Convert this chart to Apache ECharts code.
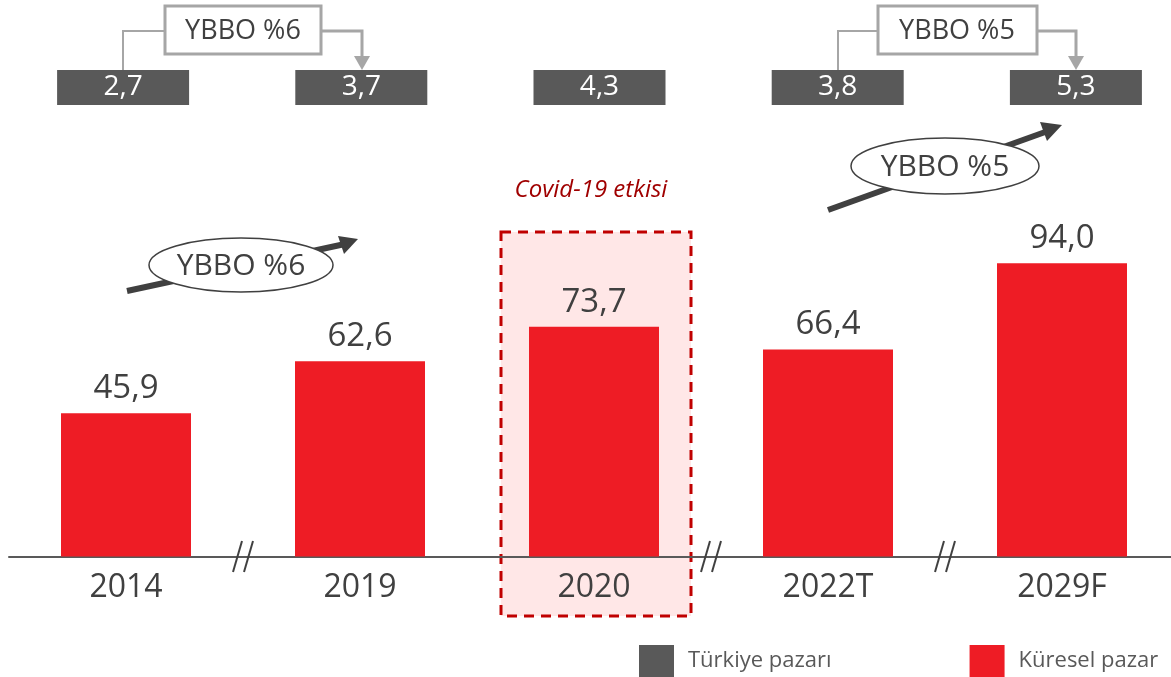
<!DOCTYPE html>
<html>
<head>
<meta charset="utf-8">
<script src="https://cdn.jsdelivr.net/npm/echarts@6/dist/echarts.min.js"></script>
<style>
  html, body { margin: 0; padding: 0; background: #fff; }
  #chart { width: 1171px; height: 677px; }
</style>
</head>
<body>
<div id="chart"></div>
<script>
  // data
  const years = ['2014', '2019', '2020', '2022T', '2029F'];
  const globalMarket = [45.9, 62.6, 73.7, 66.4, 94.0];
  const turkeyMarket = [2.7, 3.7, 4.3, 3.8, 5.3];
  const breakAfter = [0, 2, 3]; // axis breaks between these categories and the next one

  const fmt = (v) => v.toFixed(1).replace('.', ',');
  const font = '"Open Sans", "Noto Sans", sans-serif';
  const dark = '#404040';

  const chart = echarts.init(document.getElementById('chart'));

  // break marks on the x axis, centred between categories
  const breakMarks = [];
  breakAfter.forEach((i) => {
    const cx = 126 + 234 * i + 117;
    [[-10, -1], [1, 10]].forEach((d) => {
      breakMarks.push({
        type: 'line',
        z: 10,
        shape: { x1: cx + d[0], y1: 572, x2: cx + d[1], y2: 541 },
        style: { stroke: dark, lineWidth: 2 },
      });
    });
  });

  const option = {
    animation: false,
    textStyle: { fontFamily: font },
    legend: {
      left: 639,
      top: 645,
      padding: 0,
      itemWidth: 35,
      itemHeight: 32,
      itemGap: 138,
      icon: 'rect',
      textStyle: { fontSize: 22, color: '#595959', padding: [0, 0, 0, 9], fontFamily: font },
      data: ['Türkiye pazarı', 'Küresel pazar'],
    },
    grid: [
      { left: 9, width: 1170, top: 244.6, bottom: 120.5, outerBoundsMode: 'none' },
      { left: 4, width: 1191, top: 70, height: 35, outerBoundsMode: 'none' },
    ],
    xAxis: [
      {
        type: 'category',
        gridIndex: 0,
        data: years,
        axisTick: { show: false },
        axisLine: { lineStyle: { color: '#595959', width: 2 } },
        axisLabel: { fontSize: 32, color: dark, margin: 15, fontFamily: font },
      },
      { type: 'category', gridIndex: 1, data: years, show: false },
    ],
    yAxis: [
      { type: 'value', gridIndex: 0, min: 0, max: 100, show: false },
      { type: 'category', gridIndex: 1, data: ['tr'], show: false },
    ],
    series: [
      {
        name: 'Türkiye pazarı',
        type: 'scatter',
        xAxisIndex: 1,
        yAxisIndex: 1,
        symbol: 'rect',
        symbolSize: [132, 35],
        itemStyle: { color: '#595959', opacity: 1 },
        label: {
          show: true,
          position: 'inside',
          color: '#fff',
          fontSize: 28,
          fontFamily: font,
          formatter: (p) => fmt(turkeyMarket[p.dataIndex]),
        },
        data: turkeyMarket.map((v, i) => [i, 0]),
      },
      {
        name: 'Küresel pazar',
        type: 'bar',
        barWidth: 130,
        itemStyle: { color: '#ee1c25' },
        label: {
          show: true,
          position: 'top',
          distance: 8,
          fontSize: 33,
          color: dark,
          fontFamily: font,
          formatter: (p) => fmt(p.value),
        },
        data: globalMarket,
      },
    ],
    graphic: [
      // Covid box
      {
        type: 'rect',
        z: -1,
        shape: { x: 501, y: 232, width: 190, height: 384 },
        style: { fill: '#ffe7e7', stroke: '#c00000', lineWidth: 3, lineDash: [10, 7] },
      },
      {
        type: 'text',
        x: 591,
        y: 190,
        style: {
          text: 'Covid-19 etkisi',
          fill: '#a00000',
          font: 'italic 24px ' + font,
          align: 'center',
          verticalAlign: 'middle',
        },
      },
      // CAGR callouts above the Türkiye boxes
      {
        type: 'polyline',
        shape: { points: [[164, 31], [123, 31], [123, 70]] },
        style: { stroke: '#a6a6a6', lineWidth: 2, fill: null },
      },
      {
        type: 'polyline',
        shape: { points: [[321, 31], [362, 31], [362, 58]] },
        style: { stroke: '#a6a6a6', lineWidth: 3, fill: null },
      },
      {
        type: 'polygon',
        shape: { points: [[354, 56], [370, 56], [362, 70]] },
        style: { fill: '#a6a6a6' },
      },
      {
        type: 'rect',
        shape: { x: 165, y: 6, width: 156, height: 48 },
        style: { fill: '#fff', stroke: '#a6a6a6', lineWidth: 3 },
      },
      {
        type: 'text',
        x: 243,
        y: 31,
        style: { text: 'YBBO %6', fill: dark, font: '27px ' + font, align: 'center', verticalAlign: 'middle' },
      },
      {
        type: 'polyline',
        shape: { points: [[878, 31], [838, 31], [838, 70]] },
        style: { stroke: '#a6a6a6', lineWidth: 2, fill: null },
      },
      {
        type: 'polyline',
        shape: { points: [[1037, 31], [1076, 31], [1076, 58]] },
        style: { stroke: '#a6a6a6', lineWidth: 3, fill: null },
      },
      {
        type: 'polygon',
        shape: { points: [[1068, 56], [1084, 56], [1076, 70]] },
        style: { fill: '#a6a6a6' },
      },
      {
        type: 'rect',
        shape: { x: 878, y: 6, width: 159, height: 48 },
        style: { fill: '#fff', stroke: '#a6a6a6', lineWidth: 3 },
      },
      {
        type: 'text',
        x: 957,
        y: 31,
        style: { text: 'YBBO %5', fill: dark, font: '27px ' + font, align: 'center', verticalAlign: 'middle' },
      },
      // trend arrows with ellipses
      {
        type: 'line',
        shape: { x1: 127, y1: 291, x2: 345, y2: 244 },
        style: { stroke: dark, lineWidth: 6 },
      },
      {
        type: 'polygon',
        shape: { points: [[358, 239], [338, 236], [344, 254]] },
        style: { fill: dark },
      },
      {
        type: 'ellipse',
        shape: { cx: 241, cy: 265, rx: 92, ry: 27 },
        style: { fill: '#fff', stroke: dark, lineWidth: 1.5 },
      },
      {
        type: 'text',
        x: 241,
        y: 266,
        style: { text: 'YBBO %6', fill: dark, font: '30px ' + font, align: 'center', verticalAlign: 'middle' },
      },
      {
        type: 'line',
        shape: { x1: 828, y1: 210, x2: 1048, y2: 131 },
        style: { stroke: dark, lineWidth: 6 },
      },
      {
        type: 'polygon',
        shape: { points: [[1062, 125], [1040, 122], [1047, 141]] },
        style: { fill: dark },
      },
      {
        type: 'ellipse',
        shape: { cx: 945, cy: 166, rx: 94, ry: 28 },
        style: { fill: '#fff', stroke: dark, lineWidth: 1.5 },
      },
      {
        type: 'text',
        x: 945,
        y: 167,
        style: { text: 'YBBO %5', fill: dark, font: '30px ' + font, align: 'center', verticalAlign: 'middle' },
      },
    ].concat(breakMarks),
  };

  chart.setOption(option);
</script>
</body>
</html>
